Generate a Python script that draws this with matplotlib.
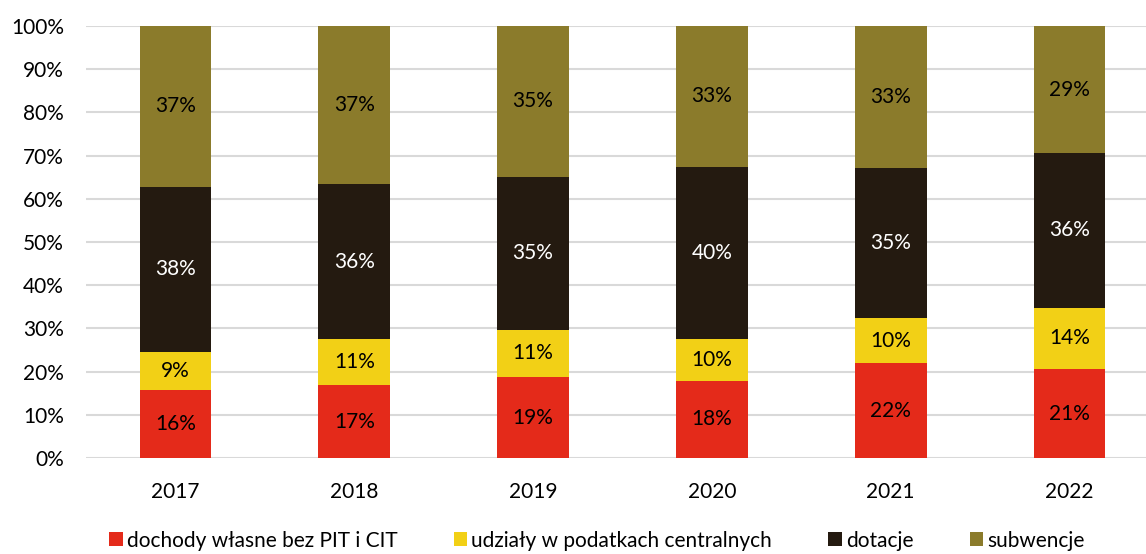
import matplotlib.pyplot as plt
import numpy as np

plt.rcParams['font.family'] = ['Lato', 'DejaVu Sans']

### Data (shares in %)
years = ['2017', '2018', '2019', '2020', '2021', '2022']
series_names = ['dochody własne bez PIT i CIT', 'udziały w podatkach centralnych',
                'dotacje', 'subwencje']
dochody = [15.7, 16.8, 18.7, 17.9, 21.9, 20.6]
udzialy = [8.9, 10.7, 11.0, 9.6, 10.4, 14.2]
dotacje = [38.2, 35.9, 35.4, 39.9, 34.8, 35.8]
subwencje = [37.2, 36.6, 34.9, 32.6, 32.9, 29.4]

colors = ['#E42A1A', '#F2D016', '#241A10', '#8B7B2B']
text_colors = ['black', 'black', 'white', 'black']

fig = plt.figure(figsize=(11.46, 5.54), dpi=100)
ax = fig.add_axes([86 / 1146, 96 / 554, 1073 / 1146, 432 / 554])

x = np.arange(len(years))
bottom = np.zeros(len(years))
for name, vals, col, tcol in zip(series_names, [dochody, udzialy, dotacje, subwencje],
                                 colors, text_colors):
    vals = np.array(vals)
    bars = ax.bar(x, vals, width=0.4, bottom=bottom, color=col, label=name, zorder=3)
    ax.bar_label(bars, labels=[f'{round(v)}%' for v in vals], label_type='center',
                 color=tcol, fontsize=15)
    bottom += vals

ax.set_xlim(-0.5, len(years) - 0.5)
ax.set_ylim(0, 100)
ax.set_yticks(np.arange(0, 101, 10))
ax.set_yticklabels([f'{t}%' for t in range(0, 101, 10)])
ax.set_xticks(x)
ax.set_xticklabels(years)
ax.tick_params(axis='both', length=0, labelsize=15)
ax.tick_params(axis='y', pad=16)
ax.tick_params(axis='x', pad=17)
ax.grid(axis='y', color='#d9d9d9', linewidth=1.5, zorder=0)
for s in ax.spines.values():
    s.set_visible(False)

fig.legend(loc='center', bbox_to_anchor=(0.521, 0.024), ncol=4, frameon=False,
           fontsize=15, handlelength=0.65, handleheight=0.65, handletextpad=0.2,
           columnspacing=2.7)

fig.savefig('out.png', dpi=100)
